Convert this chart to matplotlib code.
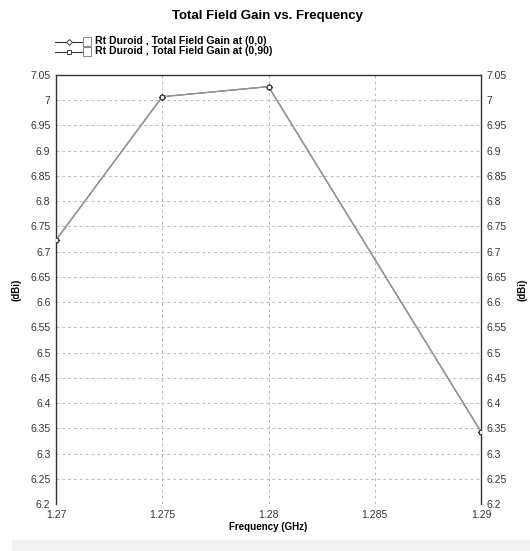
import matplotlib
matplotlib.use("Agg")
import matplotlib.pyplot as plt
from matplotlib.lines import Line2D
from matplotlib.patches import Rectangle
import numpy as np

# frequency sweep (GHz) and total field gain (dBi)
freq = [1.27, 1.275, 1.28, 1.29]
gain_0_0 = [6.723, 7.007, 7.027, 6.343]
gain_0_90 = [6.723, 7.007, 7.027, 6.343]
labels = ["Rt Duroid , Total Field Gain at (0,0)",
          "Rt Duroid , Total Field Gain at (0,90)"]
xticks = [1.27, 1.275, 1.28, 1.285, 1.29]
yticks = np.round(np.arange(6.2, 7.0501, 0.05), 2)

plt.rcParams['font.family'] = ['Liberation Sans', 'DejaVu Sans']

fig = plt.figure(figsize=(5.3, 5.51), dpi=100)
ax = fig.add_axes([56/530, 1 - 504/551, 425/530, 429/551])

ax.plot(freq, gain_0_0, color='#555555', lw=0.9, marker='D', ms=3.2,
        mfc='white', mec='#333333', mew=0.8, zorder=3)
ax.plot(freq, gain_0_90, color='#999999', lw=0.9, marker='s', ms=3.2,
        mfc='white', mec='#444444', mew=0.8, zorder=4)

ax.set_xlim(1.27, 1.29)
ax.set_ylim(6.2, 7.05)
ax.set_xticks(xticks)
ax.set_xticklabels([f"{t:g}" for t in xticks])
ax.set_yticks(yticks)
ax.set_yticklabels([f"{t:g}" for t in yticks])
ax.tick_params(length=0, labelsize=7.5, colors='#333333', pad=4)
ax.tick_params(axis='y', right=True, labelright=True)
ax.grid(True, color='#bbbbbb', ls=(0, (3, 3)), lw=0.7)
for s in ['left', 'right', 'top']:
    ax.spines[s].set_color('#333333')
    ax.spines[s].set_linewidth(1.0)
ax.spines['bottom'].set_visible(False)

ax.set_xlabel("Frequency (GHz)", fontsize=7, fontweight='bold', labelpad=2)
ax.set_ylabel("(dBi)", fontsize=7, fontweight='bold', labelpad=6)
fig.text(523/530, 1 - 290/551, "(dBi)", rotation=90, fontsize=7,
         fontweight='bold', ha='center', va='center')

fig.text(268/530, 1 - 16/551, "Total Field Gain vs. Frequency",
         fontsize=9.5, fontweight='bold', ha='center', va='center')

# legend drawn by hand to mimic the checkbox style
markers = ['D', 's']
for i, lab in enumerate(labels):
    y = 1 - (41.5 + i * 10) / 551
    fig.add_artist(Line2D([55/530, 82/530], [y, y], color='#333333', lw=0.8,
                          transform=fig.transFigure))
    fig.add_artist(Line2D([69/530], [y], marker=markers[i], ms=3, mfc='white',
                          mec='#444444', mew=0.7, transform=fig.transFigure))
    fig.add_artist(Rectangle((83/530, y - 4/551), 8/530, 8.5/551, fill=False,
                             ec='#888888', lw=0.7, transform=fig.transFigure))
    fig.text(95/530, y, lab, fontsize=7.6, fontweight='bold', ha='left',
             va='center')

fig.add_artist(Rectangle((12/530, 0), 518/530, 11/551, color='#f2f2f2',
                         transform=fig.transFigure, zorder=0))

fig.savefig("out.png", dpi=100)
